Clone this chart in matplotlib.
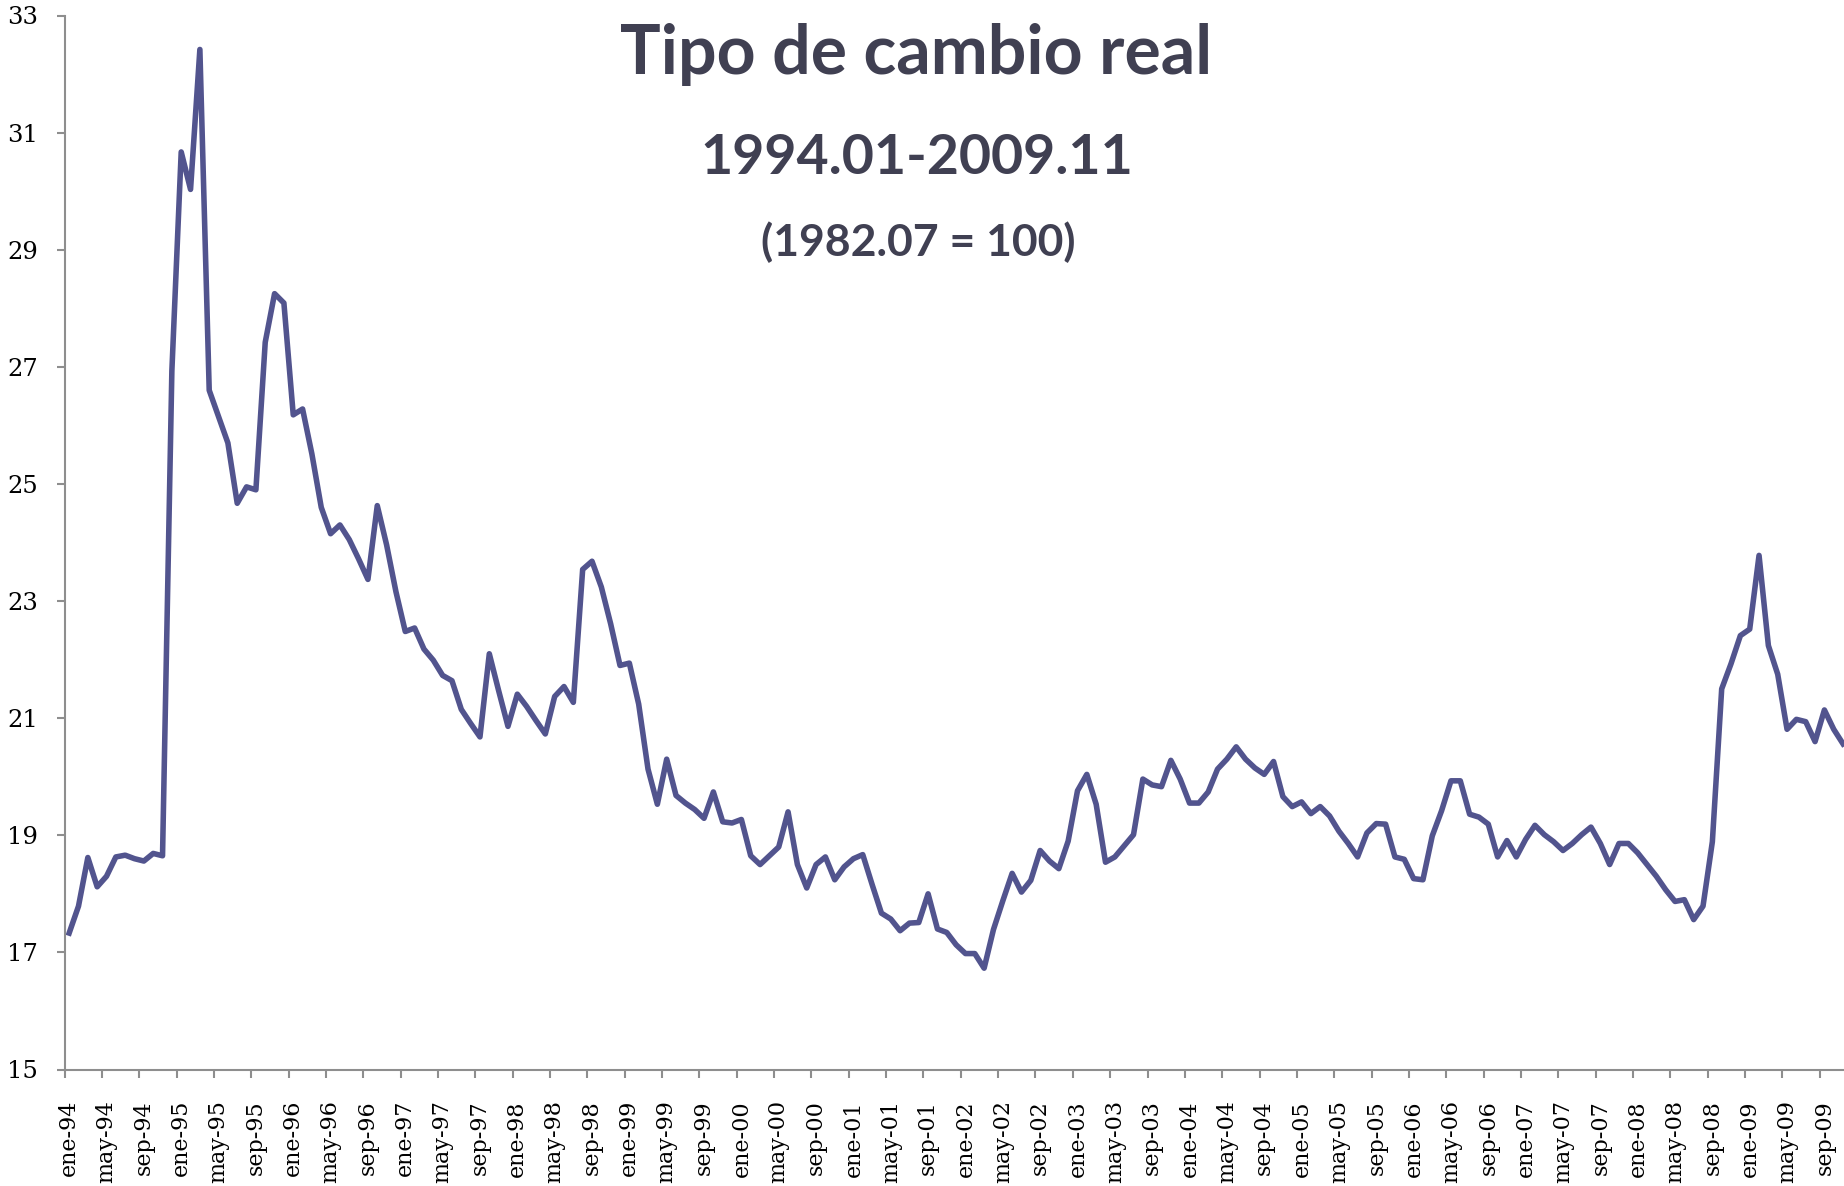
import matplotlib
matplotlib.use("Agg")
import matplotlib.pyplot as plt
from matplotlib.ticker import FixedLocator

# monthly real exchange rate, ene-1994 .. nov-2009
tcr_1994 = [17.33, 17.79, 18.62, 18.12, 18.30, 18.63, 18.66, 18.60, 18.56, 18.69, 18.65, 26.93]
tcr_1995 = [30.67, 30.03, 32.42, 26.60, 26.15, 25.70, 24.67, 24.95, 24.90, 27.42, 28.25, 28.09]
tcr_1996 = [26.18, 26.28, 25.51, 24.60, 24.15, 24.30, 24.05, 23.72, 23.37, 24.63, 23.96, 23.16]
tcr_1997 = [22.48, 22.54, 22.18, 21.99, 21.73, 21.64, 21.15, 20.91, 20.68, 22.10, 21.47, 20.86]
tcr_1998 = [21.41, 21.20, 20.96, 20.73, 21.37, 21.54, 21.27, 23.54, 23.68, 23.24, 22.61, 21.90]
tcr_1999 = [21.94, 21.24, 20.13, 19.53, 20.30, 19.68, 19.55, 19.44, 19.29, 19.74, 19.23, 19.21]
tcr_2000 = [19.27, 18.65, 18.50, 18.65, 18.80, 19.40, 18.50, 18.10, 18.50, 18.63, 18.24, 18.46]
tcr_2001 = [18.60, 18.67, 18.16, 17.67, 17.57, 17.37, 17.50, 17.51, 18.00, 17.40, 17.34, 17.13]
tcr_2002 = [16.98, 16.98, 16.73, 17.39, 17.88, 18.35, 18.03, 18.23, 18.74, 18.56, 18.43, 18.90]
tcr_2003 = [19.76, 20.04, 19.53, 18.54, 18.63, 18.82, 19.01, 19.96, 19.86, 19.83, 20.28, 19.96]
tcr_2004 = [19.55, 19.55, 19.74, 20.13, 20.30, 20.51, 20.30, 20.15, 20.04, 20.26, 19.66, 19.49]
tcr_2005 = [19.57, 19.37, 19.49, 19.33, 19.07, 18.86, 18.63, 19.04, 19.20, 19.19, 18.63, 18.59]
tcr_2006 = [18.26, 18.24, 18.99, 19.42, 19.93, 19.93, 19.36, 19.31, 19.19, 18.63, 18.91, 18.63]
tcr_2007 = [18.93, 19.17, 19.01, 18.89, 18.74, 18.86, 19.01, 19.14, 18.86, 18.50, 18.86, 18.86]
tcr_2008 = [18.70, 18.50, 18.30, 18.07, 17.87, 17.90, 17.56, 17.79, 18.89, 21.50, 21.93, 22.41]
tcr_2009 = [22.52, 23.78, 22.24, 21.75, 20.81, 20.98, 20.94, 20.60, 21.14, 20.81, 20.56]

tcr = (tcr_1994 + tcr_1995 + tcr_1996 + tcr_1997 + tcr_1998 + tcr_1999 + tcr_2000
       + tcr_2001 + tcr_2002 + tcr_2003 + tcr_2004 + tcr_2005 + tcr_2006
       + tcr_2007 + tcr_2008 + tcr_2009)
meses = ["ene", "feb", "mar", "abr", "may", "jun", "jul", "ago", "sep", "oct", "nov", "dic"]
etiquetas = ["%s-%02d" % (meses[i % 12], (94 + i // 12) % 100) for i in range(len(tcr))]
yticks = [15, 17, 19, 21, 23, 25, 27, 29, 31, 33]

line_color = "#52548E"
title_color = "#404052"
axis_color = "#8E8E8E"

fig = plt.figure(figsize=(18.44, 11.86), dpi=100)
ax = fig.add_axes([64.5 / 1844, 1 - 1069.5 / 1186, (1844 - 64.5) / 1844, (1069.5 - 15.5) / 1186])

x = list(range(len(tcr)))
ax.plot(x, tcr, color=line_color, lw=4, solid_joinstyle="round")

ax.set_xlim(-0.5, 190.1)
ax.set_ylim(15, 33)

# labels every 4 months, centred on the category; tick marks between categories
pos = list(range(0, len(tcr), 4))
ax.set_xticks(pos)
ax.set_xticklabels([etiquetas[i] for i in pos], rotation=90, family="DejaVu Serif", fontsize=16)
ax.xaxis.set_minor_locator(FixedLocator([p - 0.5 for p in pos]))
ax.tick_params(axis="x", which="major", length=0, pad=22)
ax.tick_params(axis="x", which="minor", length=6, width=1.5, color=axis_color, direction="out")

ax.set_yticks(yticks)
ax.set_yticklabels([str(v) for v in yticks], family="DejaVu Serif", fontsize=17.5)
ax.tick_params(axis="y", length=6, width=1.5, color=axis_color, pad=13)

for s in ["top", "right"]:
    ax.spines[s].set_visible(False)
for s in ["left", "bottom"]:
    ax.spines[s].set_color(axis_color)
    ax.spines[s].set_linewidth(1.5)

fig.text(916 / 1844, 1 - 55 / 1186, "Tipo de cambio real", ha="center", va="center",
         family="Lato", weight="bold", fontsize=49, color=title_color)
fig.text(917 / 1844, 1 - 158 / 1186, "1994.01-2009.11", ha="center", va="center",
         family="Lato", weight="bold", fontsize=40, color=title_color)
fig.text(918 / 1844, 1 - 242 / 1186, "(1982.07 = 100)", ha="center", va="center",
         family="Lato", weight="bold", fontsize=32, color=title_color)

fig.savefig("out.png", dpi=100)
